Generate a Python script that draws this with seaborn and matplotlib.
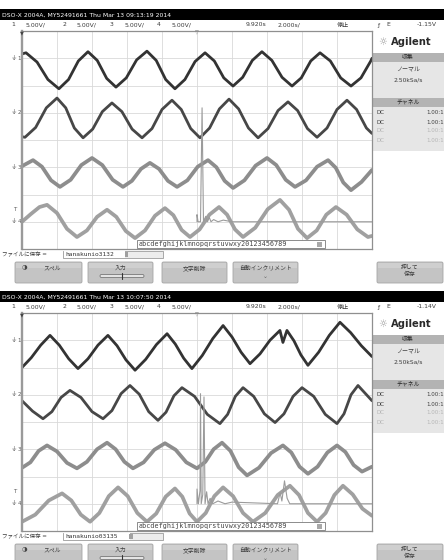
import numpy as np
import matplotlib
matplotlib.use("Agg")
import matplotlib.pyplot as plt
import matplotlib.transforms as mtransforms
import seaborn as sns
from matplotlib.patches import Rectangle, FancyBboxPatch

sns.set_theme(style="white")
plt.rcParams['font.family'] = ['DejaVu Sans', 'Noto Sans CJK JP']

# ---------------------------------------------------------------------------
# Screen settings: 10 div x 2.000 s/div, 8 div x 5.00 V/div
# Waveforms: time in s (0..20 across the screen), level in V (screen centre = 0)
# ---------------------------------------------------------------------------
time_ref = "9.920s"
timebase = "2.000s/"
run_state = "停止"
channel_ids = ["1", "2", "3", "4"]
channel_scales = ["5.00V/", "5.00V/", "5.00V/", "5.00V/"]
channel_ground = [15.0, 5.0, -5.0, -15.0]
acq_mode = "ノーマル"
sample_rate = "2.50kSa/s"
couplings = ["DC", "DC", "DC", "DC"]
probe_ratios = ["1.00:1", "1.00:1", "1.00:1", "1.00:1"]
entry_chars = "abcdefghijklmnopqrstuvwxy20123456789"
softkeys = ["スペル", "入力", "文字削除", "自動インクリメント", "押して\n保存"]

# ---- capture 1 (09:13:19) ----
cap1_stamp = "DSO-X 2004A, MY52491661 Thu Mar 13 09:13:19 2014"
cap1_trig = "-1.15V"
cap1_file = "hanakunio3132"

cap1_ch1_t = [0, 0.23, 0.86, 1.48, 2.11, 2.66, 3.22, 3.77, 4.30, 4.84, 5.37, 5.96, 6.55, 7.14,
              7.67, 8.21, 8.74, 9.31, 9.89, 10.46, 10.99, 11.53, 12.06, 12.61, 13.16, 13.71,
              14.28, 14.86, 15.43, 15.96, 16.50, 17.03, 17.62, 18.21, 18.80, 19.37, 19.93, 20.0]
cap1_ch1_v = [15.8, 16.0, 14.3, 11.1, 9.4, 11.1, 14.5, 16.2, 14.6, 11.3, 9.7, 11.4, 14.7, 16.3,
              14.6, 11.1, 9.4, 11.1, 14.4, 16.0, 14.5, 11.4, 9.9, 11.5, 14.6, 16.2,
              14.6, 11.5, 9.9, 11.4, 14.5, 16.0, 14.5, 11.4, 9.9, 11.4, 14.5, 15.0]

cap1_ch2_t = [0, 0.17, 0.78, 1.39, 2.0, 2.50, 2.99, 3.49, 4.04, 4.59, 5.14, 5.71, 6.29, 6.86,
              7.43, 8.0, 8.57, 9.10, 9.64, 10.17, 10.72, 11.28, 11.83, 12.38, 12.94, 13.49,
              14.06, 14.63, 15.2, 15.75, 16.31, 16.86, 17.43, 18.0, 18.57, 19.12, 19.68, 20.0]
cap1_ch2_v = [0.6, 0.5, 2.3, 5.9, 7.7, 5.9, 2.2, 0.4, 2.0, 5.2, 6.8, 5.2, 2.0, 0.4,
              2.1, 5.6, 7.3, 5.6, 2.1, 0.4, 2.2, 5.7, 7.5, 5.7, 2.2, 0.4,
              2.1, 5.4, 7.0, 5.4, 2.1, 0.5, 2.2, 5.6, 7.3, 5.6, 2.2, 1.2]

cap1_ch3_t = [0, 0.63, 1.14, 1.66, 2.17, 2.78, 3.39, 4.0, 4.59, 5.18, 5.77, 6.28, 6.80, 7.31,
              7.83, 8.34, 8.86, 9.45, 10.04, 10.63, 11.11, 11.58, 12.06, 12.71, 13.35, 14.0,
              14.53, 15.07, 15.6, 16.23, 16.86, 17.49, 17.93, 18.36, 18.8, 19.4, 20.0]
cap1_ch3_v = [-4.8, -3.7, -4.9, -7.4, -8.6, -7.3, -4.6, -3.3, -4.6, -7.3, -8.6, -7.5, -5.3, -4.2,
              -5.3, -7.5, -8.6, -7.4, -4.9, -3.7, -5.0, -7.5, -8.8, -7.4, -4.7, -3.3,
              -4.6, -7.3, -8.6, -7.4, -4.9, -3.7, -5.1, -7.8, -9.2, -7.7, -5.5]

cap1_ch4_t = [0, 0.5, 1.0, 1.43, 2.0, 2.57, 3.14, 3.71, 4.29, 4.86, 5.39, 5.93, 6.46, 7.03,
              7.6, 8.17, 8.65, 9.12, 9.6, 10.15, 10.71, 11.26, 11.72, 12.17, 12.63, 13.33,
              14.04, 14.74, 15.26, 15.77, 16.29, 16.84, 17.39, 17.94, 18.55, 19.16, 19.77, 20.0]
cap1_ch4_v = [-15.0, -13.6, -12.3, -11.9, -13.4, -16.3, -17.8, -16.6, -14.1, -12.8, -14.1, -16.7, -18.0, -16.6,
              -13.9, -12.5, -13.8, -16.5, -17.8, -16.4, -13.7, -12.3, -13.7, -16.4, -17.8, -16.1,
              -12.7, -11.0, -12.8, -16.3, -18.0, -16.6, -13.7, -12.3, -13.7, -16.4, -17.8, -17.6]

cap1_math_t = [10.0, 10.0, 10.06, 10.2, 10.29, 10.37, 10.5, 10.6, 10.7, 10.8, 10.95, 11.2, 11.5, 12.0, 20.0]
cap1_math_v = [-15.0, -13.7, -15.0, -15.0, 5.9, -15.0, -14.0, -15.0, -14.2, -15.0, -14.6, -15.0, -14.7, -15.0, -15.0]

# ---- capture 2 (10:07:50) ----
cap2_stamp = "DSO-X 2004A, MY52491661 Thu Mar 13 10:07:50 2014"
cap2_trig = "-1.14V"
cap2_file = "hanakunio03135"

cap2_ch1_t = [0, 0.53, 1.07, 1.6, 2.13, 2.67, 3.2, 3.77, 4.34, 4.91, 5.43, 5.94, 6.46, 7.07,
              7.68, 8.29, 8.76, 9.24, 9.71, 10.30, 10.90, 11.49, 12.0, 12.52, 13.03, 13.6,
              14.17, 14.74, 14.91, 15.14, 15.54, 15.94, 16.34, 16.95, 17.56, 18.17, 18.78, 19.39, 20.0]
cap2_ch1_v = [10.0, 11.8, 14.1, 15.9, 14.1, 11.6, 9.8, 11.6, 14.1, 15.9, 14.0, 11.4, 9.5, 11.5,
              14.2, 16.2, 14.3, 11.7, 9.8, 12.2, 15.3, 17.7, 15.6, 12.8, 10.7, 12.5,
              15.0, 16.8, 14.6, 16.8, 14.9, 12.3, 10.4, 12.8, 15.9, 18.3, 16.4, 14.0, 12.0]

cap2_ch2_t = [0, 0.6, 1.2, 1.71, 2.23, 2.74, 3.37, 4.0, 4.63, 5.14, 5.66, 6.17, 6.70, 7.24,
              7.77, 8.23, 8.68, 9.14, 9.86, 10.59, 11.31, 11.75, 12.19, 12.63, 13.24, 13.85,
              14.46, 14.97, 15.49, 16.0, 16.67, 17.33, 18.0, 18.4, 18.8, 19.2, 20.0]
cap2_ch2_v = [3.9, 2.0, 0.6, 1.9, 4.5, 5.8, 4.5, 1.9, 0.6, 2.1, 5.2, 6.7, 5.1, 1.9,
              0.3, 1.8, 4.8, 6.3, 4.7, 1.4, -0.3, 1.4, 4.7, 6.3, 4.7, 1.5,
              -0.1, 1.5, 4.7, 6.3, 4.7, 1.4, -0.3, 1.5, 5.0, 6.7, 3.9]

cap2_ch3_t = [0, 0.48, 0.95, 1.43, 2.0, 2.57, 3.14, 3.71, 4.29, 4.86, 5.35, 5.85, 6.34, 6.95,
              7.56, 8.17, 8.78, 9.39, 10.0, 10.48, 10.95, 11.43, 11.91, 12.38, 12.86, 13.54,
              14.23, 14.91, 15.39, 15.86, 16.34, 16.89, 17.45, 18.0, 18.48, 18.95, 19.43, 20.0]
cap2_ch3_v = [-8.4, -7.4, -5.3, -4.3, -5.4, -7.5, -8.5, -7.3, -5.0, -3.8, -5.0, -7.3, -8.5, -7.4,
              -5.1, -3.9, -5.1, -7.4, -8.5, -7.3, -5.0, -3.8, -5.3, -8.3, -9.8, -8.4,
              -5.7, -4.3, -5.6, -8.2, -9.5, -8.2, -5.6, -4.3, -5.5, -7.9, -9.1, -8.2]

cap2_ch4_t = [0, 0.76, 1.53, 2.29, 2.82, 3.36, 3.89, 4.42, 4.96, 5.49, 6.04, 6.59, 7.14, 7.67,
              8.21, 8.74, 9.16, 9.58, 10.0, 10.5, 10.99, 11.49, 12.06, 12.63, 13.2, 13.9,
              14.61, 15.31, 15.83, 16.34, 16.86, 17.35, 17.85, 18.34, 18.9, 19.45, 20.0]
cap2_ch4_v = [-18.3, -17.0, -14.4, -13.1, -14.4, -17.0, -18.3, -16.7, -13.6, -12.0, -13.6, -16.7, -18.3, -16.8,
              -13.7, -12.2, -13.7, -16.8, -18.3, -16.7, -13.6, -12.0, -13.6, -16.7, -18.3, -16.7,
              -13.4, -11.7, -13.4, -16.7, -18.3, -16.7, -13.4, -11.7, -13.3, -15.9, -17.2]

cap2_math_t = [10.0, 10.0, 10.08, 10.17, 10.2, 10.24, 10.33, 10.4, 10.46, 10.55, 10.63, 10.75, 10.9,
               11.2, 11.6, 12.0, 14.6, 14.75, 14.85, 15.0, 15.15, 15.3, 20.0]
cap2_math_v = [-15.0, -12.3, -15.0, -12.6, 5.2, -15.0, -13.3, 4.6, -15.0, -12.8, -15.0, -14.0, -15.0,
               -14.5, -15.0, -14.7, -15.0, -13.0, -14.5, -10.8, -14.0, -15.0, -15.0]

# ---------------------------------------------------------------------------
W, H = 444, 560
fig = plt.figure(figsize=(W / 100, H / 100), dpi=100)
fig.patch.set_facecolor("white")

bg = fig.add_axes([0, 0, 1, 1], zorder=0)
bg.set_xlim(0, W); bg.set_ylim(H, 0); bg.axis("off")
fg = fig.add_axes([0, 0, 1, 1], zorder=5)
fg.set_xlim(0, W); fg.set_ylim(H, 0); fg.axis("off"); fg.patch.set_alpha(0)

TXT = "#3c3c3c"
SMALL = 4.4


def box(ax, x, y, w, h, fc, ec="none", lw=0.6, z=1):
    ax.add_patch(Rectangle((x, y), w, h, facecolor=fc, edgecolor=ec, linewidth=lw, zorder=z))


trace_style = [("#333333", 2.0), ("#474747", 2.0), ("#8d8d8d", 2.7), ("#a0a0a0", 2.7)]


def draw_screen(y0, stamp, trig, fname, waves, math_wave):
    # title bar
    box(bg, 0, y0 + 9, W, 11, "black")
    bg.text(2, y0 + 14.8, stamp, color="white", fontsize=4.4, va="center", ha="left")

    # channel / timebase status row
    ry = y0 + 25
    for cid, sc, xn in zip(channel_ids, channel_scales, [13, 64, 112, 159]):
        bg.text(xn, ry, cid, fontsize=SMALL, color=TXT, va="center", ha="center")
        bg.text(xn + 13, ry, sc, fontsize=SMALL, color=TXT, va="center", ha="left")
    bg.text(256, ry, time_ref, fontsize=SMALL, color=TXT, va="center", ha="center")
    bg.text(289, ry, timebase, fontsize=SMALL, color=TXT, va="center", ha="center")
    bg.text(343, ry, run_state, fontsize=SMALL, color=TXT, va="center", ha="center")
    bg.text(378, ry, "ƒ", fontsize=SMALL, color=TXT, va="center", ha="center")
    bg.text(388, ry, "E", fontsize=SMALL, color=TXT, va="center", ha="center")
    bg.text(437, ry, trig, fontsize=SMALL, color=TXT, va="center", ha="right")

    # graticule
    ax = fig.add_axes([22 / W, 1 - (y0 + 249) / H, 350 / W, 218 / H], zorder=1)
    ax.set_facecolor("white")
    ax.set_xlim(0, 20); ax.set_ylim(-20, 20)
    ax.set_xticks(np.arange(0, 21, 2)); ax.set_yticks(np.arange(-20, 21, 5))
    ax.grid(True, color="#d9d9d9", linewidth=0.6)
    ax.tick_params(length=0, labelbottom=False, labelleft=False)
    for s in ax.spines.values():
        s.set_color("#8f8f8f"); s.set_linewidth(0.9)
    ax.spines["left"].set_linewidth(1.7)
    ax.spines["left"].set_color("#9a9a9a")

    for (t, v), (col, lw) in zip(waves, trace_style):
        sns.lineplot(x=t, y=v, ax=ax, color=col, linewidth=lw, sort=False,
                     estimator=None, solid_joinstyle="round", solid_capstyle="round")
    sns.lineplot(x=math_wave[0], y=math_wave[1], ax=ax, color="#9b9b9b", linewidth=0.8,
                 sort=False, estimator=None)
    ax.set_xlabel(""); ax.set_ylabel("")

    # channel ground markers on the left edge
    tr = mtransforms.blended_transform_factory(bg.transData, ax.transData)
    for cid, g in zip(channel_ids, channel_ground):
        bg.text(14.5, g, "⏚", transform=tr, fontsize=4.6, color="#555555", va="center", ha="center")
        bg.text(19.5, g, cid, transform=tr, fontsize=4.0, color="#555555", va="center", ha="center")
    bg.text(14.5, -12.8, "T", transform=tr, fontsize=4.0, color="#555555", va="center", ha="center")

    # trigger / reference markers on the top edge
    fg.text(22, y0 + 33, "▼", fontsize=3.6, color="#444444", va="center", ha="center")
    fg.text(197, y0 + 33, "▽", fontsize=3.6, color="#777777", va="center", ha="center")

    # side panel
    bg.text(383, y0 + 42, "☼", fontsize=7, color="#9a9a9a", va="center", ha="center")
    bg.text(391, y0 + 42, "Agilent", fontsize=7.2, color="#2a2a2a", va="center", ha="left",
            fontweight="bold")
    box(bg, 373, y0 + 53, 71, 8.5, "#b3b3b3")
    bg.text(408, y0 + 57.3, "収集", fontsize=4.2, color="#222222", va="center", ha="center")
    box(bg, 373, y0 + 61.5, 71, 36, "#e6e6e6")
    bg.text(408, y0 + 70, acq_mode, fontsize=4.3, color=TXT, va="center", ha="center")
    bg.text(408, y0 + 80, sample_rate, fontsize=4.3, color=TXT, va="center", ha="center")
    box(bg, 373, y0 + 97.5, 71, 9, "#b3b3b3")
    bg.text(408, y0 + 102, "チャネル", fontsize=4.2, color="#222222", va="center", ha="center")
    box(bg, 373, y0 + 106.5, 71, 44, "#e6e6e6")
    for k, (cp, pr) in enumerate(zip(couplings, probe_ratios)):
        col = TXT if k < 2 else "#b5b5b5"
        yy = y0 + 113 + k * 9
        bg.text(376, yy, cp, fontsize=4.0, color=col, va="center", ha="left")
        bg.text(444, yy, pr, fontsize=4.0, color=col, va="center", ha="right")

    # text entry field drawn over the traces
    box(fg, 137, y0 + 240, 188, 8, "white", ec="#7a7a7a", lw=0.6, z=2)
    fg.text(139, y0 + 244.2, entry_chars, fontsize=4.9, family="DejaVu Sans Mono",
            color="#444444", va="center", ha="left", zorder=3)
    box(fg, 317, y0 + 241.5, 5, 5, "#a8a8a8", z=3)

    # file name row
    bg.text(2, y0 + 254, "ファイルに保存 =", fontsize=4.0, color=TXT, va="center", ha="left")
    box(bg, 63, y0 + 250.5, 100, 7.5, "#ececec", ec="#8a8a8a", lw=0.5)
    box(bg, 63.5, y0 + 251, len(fname) * 4.6 + 2, 6.5, "white")
    bg.text(65, y0 + 254.3, fname, fontsize=4.5, family="DejaVu Sans Mono", color="#333333",
            va="center", ha="left")
    box(bg, 65 + len(fname) * 4.6, y0 + 251.5, 3.5, 5.5, "#a0a0a0")

    # soft keys
    for label, x0, w in zip(softkeys, [15, 88, 162, 233, 377], [67, 65, 65, 65, 66]):
        bg.add_patch(FancyBboxPatch((x0, y0 + 262), w, 21, boxstyle="round,pad=0,rounding_size=1.5",
                                    facecolor="#c4c4c4", edgecolor="#a6a6a6", linewidth=0.6))
        box(bg, x0 + 1, y0 + 262.5, w - 2, 5, "#cfcfcf", z=1.1)
        if "\n" in label:
            a, b = label.split("\n")
            bg.text(x0 + w / 2, y0 + 267.5, a, fontsize=4.2, color=TXT, va="center", ha="center", zorder=2)
            bg.text(x0 + w / 2, y0 + 274.5, b, fontsize=4.2, color=TXT, va="center", ha="center", zorder=2)
        else:
            bg.text(x0 + w / 2 + (4 if label == "スペル" else 0), y0 + 268, label, fontsize=4.2,
                    color=TXT, va="center", ha="center", zorder=2)
    bg.text(24, y0 + 268, "◑", fontsize=4.6, color="#444444", va="center", ha="center", zorder=2)
    bg.add_patch(FancyBboxPatch((100, y0 + 274.5), 44, 3, boxstyle="round,pad=0,rounding_size=1.5",
                                facecolor="#e4e4e4", edgecolor="#666666", linewidth=0.5, zorder=2))
    bg.plot([121.5, 121.5], [y0 + 272.5, y0 + 279], color="#333333", linewidth=0.8, zorder=3)
    bg.text(265.5, y0 + 276, "⌄", fontsize=4.2, color="#666666", va="center", ha="center", zorder=2)
    return ax


draw_screen(0, cap1_stamp, cap1_trig, cap1_file,
            [(cap1_ch1_t, cap1_ch1_v), (cap1_ch2_t, cap1_ch2_v),
             (cap1_ch3_t, cap1_ch3_v), (cap1_ch4_t, cap1_ch4_v)],
            (cap1_math_t, cap1_math_v))
draw_screen(282, cap2_stamp, cap2_trig, cap2_file,
            [(cap2_ch1_t, cap2_ch1_v), (cap2_ch2_t, cap2_ch2_v),
             (cap2_ch3_t, cap2_ch3_v), (cap2_ch4_t, cap2_ch4_v)],
            (cap2_math_t, cap2_math_v))

fig.savefig("out.png", dpi=100, facecolor="white")
